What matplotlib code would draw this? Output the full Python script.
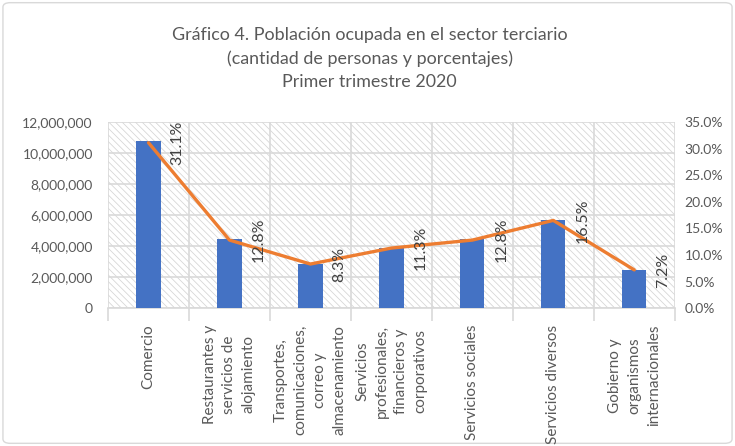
import matplotlib
matplotlib.use("Agg")
import matplotlib.pyplot as plt
from matplotlib.patches import Rectangle, FancyBboxPatch
from matplotlib.ticker import FuncFormatter, FixedLocator
import numpy as np

plt.rcParams['font.family'] = ['Lato', 'DejaVu Sans']
plt.rcParams['hatch.linewidth'] = 0.55
plt.rcParams['hatch.color'] = '#d4d4d4'

categories = [
    "Comercio",
    "Restaurantes y\nservicios de\nalojamiento",
    "Transportes,\ncomunicaciones,\ncorreo y\nalmacenamiento",
    "Servicios\nprofesionales,\nfinancieros y\ncorporativos",
    "Servicios sociales",
    "Servicios diversos",
    "Gobierno y\norganismos\ninternacionales",
]
personas = [10770000, 4430000, 2870000, 3910000, 4430000, 5710000, 2490000]
porcentajes = [31.1, 12.8, 8.3, 11.3, 12.8, 16.5, 7.2]
title_lines = ["Gráfico 4. Población ocupada en el sector terciario",
               "(cantidad de personas y porcentajes)",
               "Primer trimestre 2020"]

txt = '#595959'
grid = '#d9d9d9'

fig = plt.figure(figsize=(7.35, 4.46), dpi=100)
fig.patches.append(FancyBboxPatch((0.004, 0.006), 0.992, 0.988, boxstyle="round,pad=0,rounding_size=0.01",
                                  transform=fig.transFigure, facecolor='none', edgecolor='#d9d9d9',
                                  linewidth=1.0, zorder=-10))
ax = fig.add_axes([0.147, 0.309, 0.771, 0.4175])
ax.set_facecolor('white')
ax.add_patch(Rectangle((0, 0), 1, 1, transform=ax.transAxes, facecolor='none', hatch='\\\\\\\\\\',
                       edgecolor='#d4d4d4', linewidth=0, zorder=0))

n = len(categories)
x = np.arange(n)
ax.bar(x, personas, width=0.3, color='#4472C4', zorder=3)
ax.set_xlim(-0.5, n - 0.5)
ax.set_ylim(0, 12000000)
ax.set_yticks(np.arange(0, 12000001, 2000000))
ax.yaxis.set_major_formatter(FuncFormatter(lambda v, p: f"{int(v):,}"))
ax.tick_params(axis='y', length=0, labelsize=10, labelcolor=txt, pad=11)
ax.yaxis.grid(True, color=grid, linewidth=1.2, zorder=1)
ax.set_axisbelow(True)
for xv in np.arange(-0.5, n, 1.0):
    ax.axvline(xv, color=grid, linewidth=1.2, zorder=1)

ax.xaxis.set_major_locator(FixedLocator(np.arange(-0.5, n, 1.0)))
ax.xaxis.set_major_formatter(FuncFormatter(lambda v, p: ""))
ax.xaxis.set_minor_locator(FixedLocator(x))
ax.set_xticklabels(categories, minor=True, rotation=90, va='top', ha='center',
                   multialignment='center', linespacing=1.5)
ax.tick_params(axis='x', which='major', length=9, color=grid, width=1.2)
ax.tick_params(axis='x', which='minor', length=0, labelsize=11, labelcolor=txt, pad=12)
for s in ['left', 'right', 'top']:
    ax.spines[s].set_visible(False)
ax.spines['bottom'].set_color(grid)
ax.spines['bottom'].set_linewidth(1.2)

ax2 = ax.twinx()
ax2.plot(x, porcentajes, color='#ED7D31', linewidth=2.4, zorder=4, solid_capstyle='round')
ax2.set_ylim(0, 35)
ax2.set_yticks(np.arange(0, 35.1, 5))
ax2.yaxis.set_major_formatter(FuncFormatter(lambda v, p: f"{v:.1f}%"))
ax2.tick_params(axis='y', length=0, labelsize=10, labelcolor=txt, pad=7)
for s in ax2.spines.values():
    s.set_visible(False)
for xi, p in zip(x, porcentajes):
    ax2.annotate(f"{p:.1f}%", (xi, p), xytext=(29, 0), textcoords='offset pixels',
                 rotation=90, ha='center', va='center', fontsize=11.5, color='#404040', zorder=5)

for i, line in enumerate(title_lines):
    fig.text(0.503, 1 - (35 + 23.5 * i) / 446, line, ha='center', va='center', fontsize=12.9, color=txt)

fig.savefig("out.png", dpi=100)
